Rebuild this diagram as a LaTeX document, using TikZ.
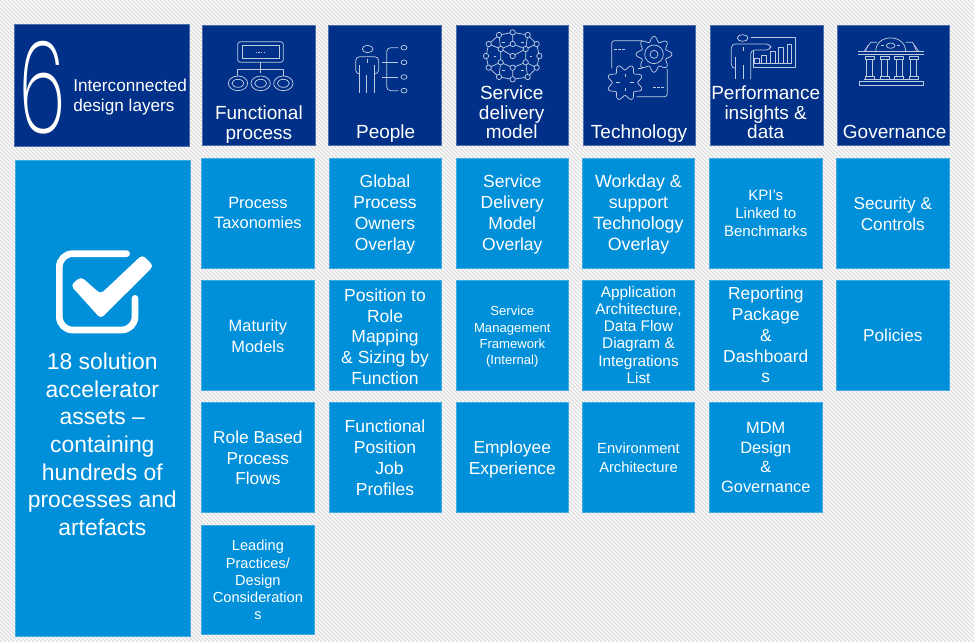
\documentclass[tikz,border=0pt]{standalone}
\usepackage{fontspec}
\setmainfont{Liberation Sans}
\newfontfamily\sixfont{Poppins ExtraLight}
\definecolor{navy}{HTML}{003087}
\definecolor{azure}{HTML}{0090DA}
\definecolor{hatch}{HTML}{DCDCDC}
\newcommand\pxfont[2]{\fontsize{\the\dimexpr#1pt*3/4\relax}{\the\dimexpr#2pt*3/4\relax}\selectfont}
\tikzset{
  darkbox/.style={fill=navy,draw=navy!70!white,line width=.4pt,inner sep=0pt,minimum width=112.6*.75pt,minimum height=120.3*.75pt},
  lightbox/.style={fill=azure,draw=azure!75!white,line width=.4pt,inner sep=0pt,minimum width=112.3*.75pt,minimum height=109.6*.75pt},
  caption/.style={text=white,align=center,inner sep=0pt},
  ico/.style={draw=white!75!navy,line width=.55pt,line join=round},
  dot/.style={ico,fill=navy},
}
% name, centre x, text x, mean baseline y, leading px, text, unused
\newcommand\headcell[7]{%
  \node[darkbox] (#1) at (#2,85.2) {};
  \node[caption,font=\pxfont{19}{#5}] (#1-t) at (#3,#4) {\rule{0pt}{1em}#6\rule[-1em]{0pt}{1em}};}
\newcommand\bodycell[7]{%
  \node[lightbox] (#1) at (#2,#3) {};
  \node[caption,font=\pxfont{#5}{#6}] (#1-t) at (#2,#4) {\rule{0pt}{1em}#7\rule[-1em]{0pt}{1em}};}
\begin{document}
\begin{tikzpicture}[x=.75pt,y=-.75pt]
\useasboundingbox (0,0) rectangle (974,642);
\fill[white] (0,0) rectangle (974,642);
\begin{scope}
\clip (0,0) rectangle (974,642);
\foreach \k in {-160,...,245}
  \draw[hatch,line width=.85pt] ({\k*4},0) -- ({\k*4+642},642);
\end{scope}

% title block
\node[fill=navy,draw=navy!70!white,line width=.4pt,inner sep=0pt,minimum width=175*.75pt,minimum height=122*.75pt] (title) at (102.2,85) {};
\node[text=white,inner sep=0pt,anchor=base,font=\sixfont\pxfont{128}{128}] (six) at (42.5,133) {\scalebox{.6}[1]{6}};
\node[text=white,inner sep=0pt,align=left,anchor=west,font=\pxfont{17.2}{20}] (titletext) at (73,101.7) {\rule{0pt}{1em}Interconnected\\design layers\rule[-1em]{0pt}{1em}};

% header cells
\headcell{hfun}{258.9}{258.9}{129}{20}{Functional\\process}{}
\headcell{hpeo}{385}{385.7}{138.7}{20}{People}{}
\headcell{hsvc}{512.3}{511.7}{119.3}{19.5}{Service\\delivery\\model}{}
\headcell{htec}{639.3}{639}{138.7}{20}{Technology}{}
\headcell{hper}{766.7}{765.7}{119.3}{19.5}{Performance\\insights \&\\data}{}
\headcell{hgov}{893.2}{894.7}{138.7}{20}{Governance}{}

% summary cell
\node[fill=azure,draw=azure!75!white,line width=.4pt,inner sep=0pt,minimum width=175*.75pt,minimum height=476*.75pt] (summary) at (102.3,398) {};
\node[caption,font=\pxfont{22.9}{27.6}] (summary-t) at (102.3,452.5) {\rule{0pt}{1em}18 solution\\accelerator\\assets --\\containing\\hundreds of\\processes and\\artefacts\rule[-1em]{0pt}{1em}};

% body cells
\bodycell{a1}{257.9}{213}{218.7}{16.4}{19.7}{Process\\Taxonomies}
\bodycell{a2}{257.9}{335}{342}{16.4}{20.7}{Maturity\\Models}
\bodycell{a3}{257.9}{457.2}{464}{17.3}{20.7}{Role Based\\Process\\Flows}
\bodycell{a4}{257.9}{579.8}{585.3}{14.6}{17.3}{Leading\\Practices/\\Design\\Consideration\\s}
\bodycell{b1}{385}{213}{219}{17.5}{20.7}{Global\\Process\\Owners\\Overlay}
\bodycell{b2}{385}{335}{342.7}{17.5}{20.7}{Position to\\Role\\Mapping\\\& Sizing by\\Function}
\bodycell{b3}{385}{457.2}{464}{17.5}{20.7}{Functional\\Position\\\hspace{.5em}Job\\Profiles}
\bodycell{c1}{512.3}{213}{219}{17.5}{20.7}{Service\\Delivery\\Model\\Overlay}
\bodycell{c2}{512.3}{335}{340.3}{13.1}{16.3}{Service\\Management\\Framework\\(Internal)}
\bodycell{c3}{512.3}{457.2}{463.8}{17.4}{20.7}{Employee\\Experience}
\bodycell{d1}{638.5}{213}{219}{17.8}{20.7}{Workday \&\\support\\Technology\\Overlay}
\bodycell{d2}{638.5}{335}{340.3}{15.4}{17.3}{Application\\Architecture,\\Data Flow\\Diagram \&\\Integrations\\List}
\bodycell{d3}{638.5}{457.2}{463.2}{14.7}{18.5}{Environment\\Architecture}
\bodycell{e1}{765.8}{213}{218.3}{15}{18.3}{KPI’s\\Linked to\\Benchmarks}
\bodycell{e2}{765.8}{335}{341.3}{17.4}{20.7}{Reporting\\Package\\\&\\Dashboard\\s}
\bodycell{e3}{765.8}{457.2}{463.2}{16.4}{19.5}{MDM\\Design\\\&\\Governance}
\bodycell{f1}{892.8}{213}{219.5}{17.2}{21}{Security \&\\Controls}
\bodycell{f2}{892.8}{335}{341.7}{17.2}{21}{Policies}

% icon: functional process
\begin{scope}[x=.25pt,y=-.25pt]
\draw[ico,rounded corners=2pt] (713,125) rectangle (850,187);
\draw[ico] (727,136) rectangle (838,176);
\draw[ico,dash pattern=on 1pt off 1pt] (767,156) -- (797,156);
\draw[ico] (782,187) -- (782,220);
\draw[ico] (713,228) -- (713,208) -- (850,208) -- (850,228);
\foreach \cx in {714,782,850} {
  \draw[ico] (\cx,250) ellipse [x radius=29,y radius=22];
  \draw[ico] (\cx,250) ellipse [x radius=18,y radius=12];
}
\end{scope}

% icon: people
\begin{scope}[shift={(240pt,0pt)},x=.25pt,y=-.25pt]
\draw[ico] (143,147) ellipse [x radius=16,y radius=11];
\draw[ico,rounded corners=3pt] (118,222) -- (107,222) -- (107,170) -- (176,170) -- (176,222) -- (165,222);
\draw[ico] (118,195) -- (118,280) (140,225) -- (140,280) (163,195) -- (163,280) (141,176) -- (141,190);
\draw[ico,rounded corners=3pt] (235,143) -- (200,143) -- (200,272) -- (235,272);
\draw[ico] (185,187) -- (235,187) (185,231) -- (235,231);
\foreach \cy in {143,187,231,272}
  \draw[ico] (252,\cy) ellipse [x radius=9,y radius=7];

% icon: service delivery globe
\draw[ico] (578,97)--(623,105)--(650,132)--(658,168)--(650,203)--(623,231)--(578,238)--(537,231)--(506,203)--(498,168)--(506,132)--(537,105)--cycle;
\draw[ico] (578,97)--(578,132)--(617,147)--(578,168)--(542,147)--(506,132)
  (537,105)--(542,147)--(542,187)--(578,203)--(617,187)--(617,147)--(650,132)
  (623,105)--(617,147) (578,203)--(578,238) (542,187)--(506,203) (542,187)--(537,231)
  (617,187)--(650,203) (617,187)--(623,231) (578,132)--(542,147);
\foreach \px/\py in {578/97,623/105,650/132,658/168,650/203,623/231,578/238,537/231,506/203,498/168,506/132,537/105,578/132,617/147,617/187,578/203,542/187,542/147,578/168}
  \draw[dot] (\px,\py) circle (8);
\foreach \px/\py in {550/126,607/126,525/168,633/168,550/211,607/211}
  \draw[ico] (\px-4,\py) -- (\px+4,\py);

% icon: technology, lower gear and window
\draw[ico,rounded corners=2pt] (968,122) -- (875,122) -- (875,205);
\draw[ico,dash pattern=on 2pt off 1pt] (882,147) -- (917,147);
\draw[ico] (955,205) -- (965,205);
\begin{scope}[shift={(915,248)}]
\draw[ico] plot[smooth cycle,domain=0:355,samples=72] (\x:{46+8*cos(8*(\x+22.5))});
\draw[ico] (-26,0)--(-16,0) (16,0)--(26,0) (0,-26)--(0,-16) (0,16)--(0,26);
\end{scope}
\end{scope}

% icons on the right
\begin{scope}[shift={(483pt,0pt)},x=.25pt,y=-.25pt]
% technology, upper gear and card
\begin{scope}[shift={(30,163)}]
\draw[ico] plot[smooth cycle,domain=0:355,samples=72] (\x:{46+8*cos(8*\x)});
\draw[ico] (0,0) circle (28);
\draw[ico] (0,0) circle (12);
\end{scope}
\draw[ico,rounded corners=2pt] (70,207) -- (70,290) -- (-22,290);
\draw[ico,dash pattern=on 2pt off 1pt] (28,263) -- (62,263);
% performance insights
\draw[ico] (296,114) ellipse [x radius=16,y radius=10];
\draw[ico,rounded corners=3pt] (273,205) -- (262,205) -- (262,132) -- (380,132) -- (380,150) -- (320,150) -- (320,238);
\draw[ico] (273,170) -- (273,238) (297,195) -- (297,238) (298,140) -- (298,152);
\draw[ico] (320,113) -- (453,113) -- (453,203) -- (327,203) -- (327,150) (327,190) -- (445,190);
\foreach \bx/\by in {331/175,353/165,379/155,404/143,429/133}
  \draw[ico] (\bx,190) -- (\bx,\by) -- (\bx+14,\by) -- (\bx+14,190);
% governance
\draw[ico] (642,155) -- (840,155) (642,163) -- (840,163);
\draw[ico] (660,155) -- (680,127) -- (699,127) (785,127) -- (805,127) -- (825,155);
\draw[ico] (664,155) -- (672,135);
\draw[ico] (818,155) -- (810,135);
\draw[ico] (695,155) .. controls (695,100) and (785,100) .. (785,155);
\draw[ico] (740,137) ellipse [x radius=13,y radius=8];
\draw[ico] (712,137) -- (720,137) (760,137) -- (768,137);
\foreach \cl in {663,708,752,795} {
  \draw[ico] (\cl,170) rectangle (\cl+27,178);
  \draw[ico] (\cl+5,178) -- (\cl+5,228) (\cl+22,178) -- (\cl+22,228);
  \draw[ico] (\cl,228) rectangle (\cl+27,237);
}
\draw[ico] (660,238) -- (822,238);
\draw[ico] (645,245) rectangle (838,257);
\end{scope}

% check mark
\begin{scope}[shift={(0pt,-172.5pt)},x=.25pt,y=-.25pt]
\draw[white,line width=5pt,line cap=round,rounded corners=10pt] (380,71) -- (178,71) -- (178,300) -- (405,300) -- (405,205);
\fill[white,rounded corners=3pt] (212,166) -- (243,140) -- (302,192) -- (427,74) -- (461,108) -- (302,266) -- cycle;
\end{scope}
\end{tikzpicture}
\end{document}
